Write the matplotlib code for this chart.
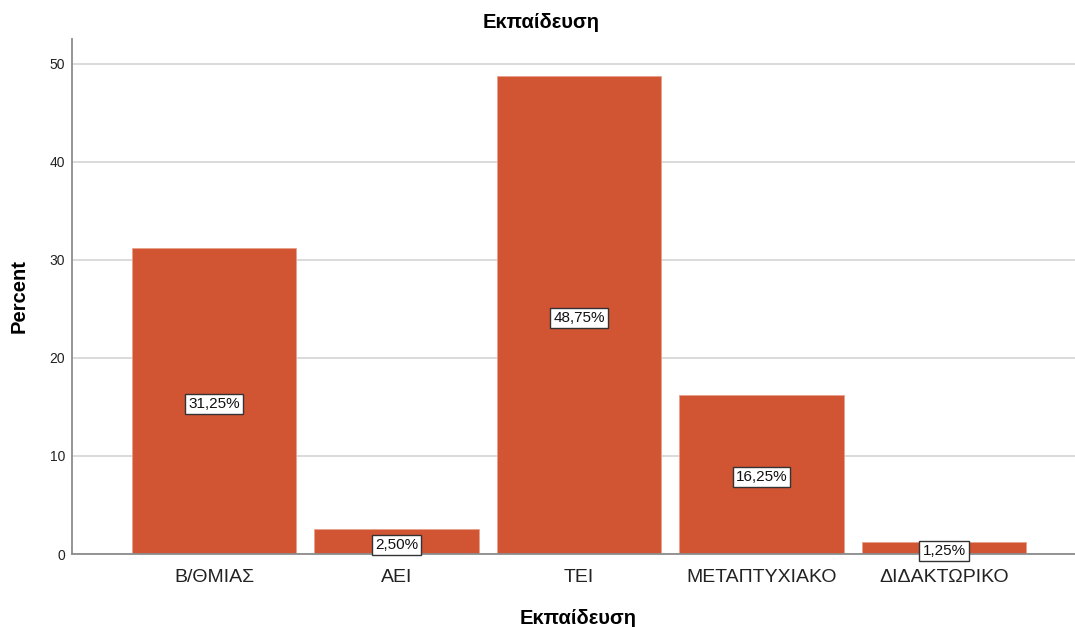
import matplotlib
matplotlib.use("Agg")
import matplotlib.pyplot as plt

categories = ["Β/ΘΜΙΑΣ", "ΑΕΙ", "ΤΕΙ", "ΜΕΤΑΠΤΥΧΙΑΚΟ", "ΔΙΔΑΚΤΩΡΙΚΟ"]
percent = [31.25, 2.50, 48.75, 16.25, 1.25]
y_ticks = [0, 10, 20, 30, 40, 50]

plt.rcParams["font.family"] = ["Liberation Sans", "DejaVu Sans"]

fig = plt.figure(figsize=(10.75, 6.27), dpi=100)
ax = fig.add_axes([72 / 1075, 1 - 554 / 627, (1075 - 72) / 1075, (554 - 39) / 627])

x = list(range(len(categories)))
ax.bar(x, percent, width=0.9, color="#D15433", edgecolor="#E8A08C", linewidth=0.6, zorder=2)

for xi, v in zip(x, percent):
    ax.annotate(f"{v:.2f}%".replace(".", ","), xy=(xi, v / 2), xytext=(0, -2.2),
                textcoords="offset points", ha="center", va="center",
                fontsize=11, color="#111111", zorder=4,
                bbox=dict(boxstyle="square,pad=0.2", facecolor="white",
                          edgecolor="#333333", linewidth=1.0))

ax.set_xlim(-0.778, 4.718)
ax.set_ylim(0, 52.55)
ax.set_yticks(y_ticks)
ax.set_yticklabels([str(t) for t in y_ticks], fontsize=10, color="#222222")
ax.set_xticks(x)
ax.set_xticklabels(categories, fontsize=14, color="#222222")
ax.tick_params(axis="x", length=0, pad=11)
ax.tick_params(axis="y", length=0, pad=5)

ax.yaxis.grid(True, color="#D4D4D4", linewidth=1.2, zorder=0)
ax.set_axisbelow(True)
for s in ["top", "right"]:
    ax.spines[s].set_visible(False)
ax.spines["left"].set_color("#8C8C8C")
ax.spines["left"].set_linewidth(1.3)
ax.spines["bottom"].set_color("#8C8C8C")
ax.spines["bottom"].set_linewidth(1.3)

ax.set_ylabel("Percent", fontsize=14.5, fontweight="bold")
ax.yaxis.set_label_coords(-0.043, 0.5)
ax.set_xlabel("Εκπαίδευση", fontsize=14.5, fontweight="bold")
ax.xaxis.set_label_coords(0.505, -0.106)
fig.text(541 / 1075, 1 - 22 / 627, "Εκπαίδευση", ha="center", va="center",
         fontsize=14.5, fontweight="bold")

fig.savefig("out.png", dpi=100, facecolor="white")
